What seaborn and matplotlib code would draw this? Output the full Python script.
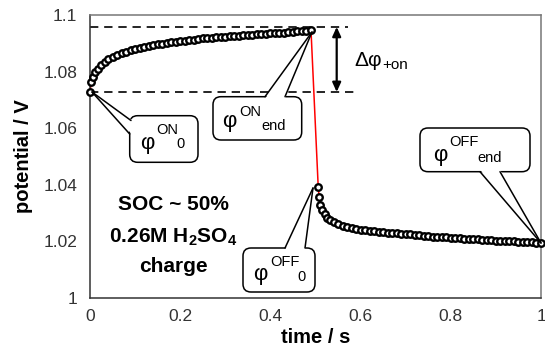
import numpy as np
import pandas as pd
import matplotlib
matplotlib.use("Agg")
import matplotlib.pyplot as plt
import seaborn as sns
from matplotlib.patches import FancyBboxPatch, Polygon
from matplotlib.lines import Line2D
from matplotlib.transforms import Affine2D

# ---------------- data ----------------
on_t = [0.0, 0.003, 0.007, 0.012, 0.018, 0.025, 0.033, 0.041, 0.05, 0.06,
        0.07, 0.08, 0.09, 0.10, 0.11, 0.12, 0.13, 0.14, 0.15, 0.16,
        0.17, 0.18, 0.19, 0.20, 0.21, 0.22, 0.23, 0.24, 0.25, 0.26,
        0.27, 0.28, 0.29, 0.30, 0.31, 0.32, 0.33, 0.34, 0.35, 0.36,
        0.37, 0.38, 0.39, 0.40, 0.41, 0.42, 0.43, 0.44, 0.45, 0.46,
        0.47, 0.48, 0.49]
on_v = [1.0728, 1.0765, 1.0782, 1.0797, 1.0810, 1.0822, 1.0834, 1.0843, 1.0851, 1.0858,
        1.0864, 1.0870, 1.0875, 1.0880, 1.0884, 1.0887, 1.0890, 1.0893, 1.0896, 1.0898,
        1.0900, 1.0903, 1.0905, 1.0907, 1.0909, 1.0911, 1.0913, 1.0915, 1.0917, 1.0918,
        1.0920, 1.0921, 1.0922, 1.0924, 1.0925, 1.0926, 1.0927, 1.0929, 1.0930, 1.0931,
        1.0932, 1.0933, 1.0934, 1.0935, 1.0936, 1.0937, 1.0938, 1.0939, 1.0940, 1.0942,
        1.0943, 1.0945, 1.0947]

off_t = [0.506, 0.508, 0.511, 0.515, 0.520, 0.526, 0.533, 0.541, 0.55, 0.56,
         0.57, 0.58, 0.59, 0.60, 0.61, 0.62, 0.63, 0.64, 0.65, 0.66,
         0.67, 0.68, 0.69, 0.70, 0.71, 0.72, 0.73, 0.74, 0.75, 0.76,
         0.77, 0.78, 0.79, 0.80, 0.81, 0.82, 0.83, 0.84, 0.85, 0.86,
         0.87, 0.88, 0.89, 0.90, 0.91, 0.92, 0.93, 0.94, 0.95, 0.96,
         0.97, 0.98, 0.99, 1.00]
off_v = [1.0393, 1.0358, 1.0330, 1.0310, 1.0296, 1.0284, 1.0275, 1.0267, 1.0261, 1.0256,
         1.0251, 1.0247, 1.0244, 1.0241, 1.0239, 1.0237, 1.0235, 1.0233, 1.0232, 1.0231,
         1.0229, 1.0228, 1.0227, 1.0226, 1.0225, 1.0223, 1.0222, 1.0220, 1.0219, 1.0217,
         1.0216, 1.0215, 1.0214, 1.0213, 1.0212, 1.0211, 1.0210, 1.0209, 1.0208, 1.0207,
         1.0206, 1.0205, 1.0204, 1.0203, 1.0202, 1.0201, 1.0201, 1.0200, 1.0199, 1.0198,
         1.0197, 1.0197, 1.0196, 1.0195]

dash_top = 1.0958
dash_bottom = 1.0728

x_ticks = [0, 0.2, 0.4, 0.6, 0.8, 1.0]
x_ticklabels = ["0", "0.2", "0.4", "0.6", "0.8", "1"]
y_ticks = [1.0, 1.02, 1.04, 1.06, 1.08, 1.1]
y_ticklabels = ["1", "1.02", "1.04", "1.06", "1.08", "1.1"]

# ---------------- style ----------------
sns.set_style("white")
plt.rcParams['font.family'] = ['Liberation Sans', 'DejaVu Sans']
plt.rcParams['mathtext.fontset'] = 'custom'
plt.rcParams['mathtext.rm'] = 'Liberation Sans'
plt.rcParams['mathtext.bf'] = 'Liberation Sans:bold'
plt.rcParams['text.color'] = 'black'
plt.rcParams['axes.labelcolor'] = 'black'

W, H = 545, 357
fig = plt.figure(figsize=(W / 100, H / 100), dpi=100)
ax = fig.add_axes([90 / W, 1 - 298 / H, (541 - 90) / W, (298 - 15) / H])

df_all = pd.DataFrame({"t": on_t + off_t, "v": on_v + off_v})
df_on = pd.DataFrame({"t": on_t, "v": on_v})
df_off = pd.DataFrame({"t": off_t, "v": off_v})

sns.lineplot(data=df_all, x="t", y="v", ax=ax, color="#ff0000", linewidth=1.1,
             sort=False, estimator=None, zorder=2)
for d in (df_on, df_off):
    sns.scatterplot(data=d, x="t", y="v", ax=ax, marker="o", s=22,
                    facecolor="white", edgecolor="black", linewidth=1.7,
                    zorder=3, clip_on=False)

ax.set_xlim(0, 1)
ax.set_ylim(1.0, 1.1)
ax.set_xticks(x_ticks)
ax.set_xticklabels(x_ticklabels)
ax.set_yticks(y_ticks)
ax.set_yticklabels(y_ticklabels)
ax.tick_params(axis="both", direction="out", length=4, width=1, color="#333333",
               labelsize=12.5, labelcolor="#333333", pad=5)
ax.tick_params(axis="x", pad=4)
for side in ("left", "bottom"):
    ax.spines[side].set_color("#333333")
    ax.spines[side].set_linewidth(1.1)
for side in ("top", "right"):
    ax.spines[side].set_color("#777777")
    ax.spines[side].set_linewidth(1.1)

ax.set_xlabel("time / s", fontsize=14.5, fontweight="bold", labelpad=3)
ax.set_ylabel("potential / V", fontsize=14.5, fontweight="bold", labelpad=8)

# dashed reference lines and double arrow
ax.plot([0, 0.572], [dash_top, dash_top], color="black", linestyle=(0, (5, 3.5)),
        linewidth=1.2, zorder=1)
ax.plot([0, 0.588], [dash_bottom, dash_bottom], color="black", linestyle=(0, (5, 3.5)),
        linewidth=1.2, zorder=1)
ax.annotate("", xy=(0.547, dash_top), xytext=(0.547, dash_bottom),
            arrowprops=dict(arrowstyle="<|-|>,head_length=0.55,head_width=0.25",
                            color="black", lw=1.6, shrinkA=0, shrinkB=0))

# ---------------- pixel-space annotations ----------------
T = Affine2D().scale(1, -1).translate(0, H)


def ptext(x, y, s, size, **kw):
    fig.text(x, y, s, transform=T, fontsize=size, ha="center", va="center",
             color="black", **kw)


def callout(box, b1, b2, tip, inward):
    x0, y0, x1, y1 = box
    p = FancyBboxPatch((x0, y0), x1 - x0, y1 - y0,
                       boxstyle="round,pad=0,rounding_size=8",
                       facecolor="white", edgecolor="black", linewidth=1.1,
                       transform=T, zorder=5)
    fig.add_artist(p)
    dx, dy = inward
    wedge = Polygon([(b1[0] + dx, b1[1] + dy), tip, (b2[0] + dx, b2[1] + dy)],
                    closed=True, facecolor="white", edgecolor="none",
                    transform=T, zorder=6)
    fig.add_artist(wedge)
    for b in (b1, b2):
        fig.add_artist(Line2D([b[0], tip[0]], [b[1], tip[1]], color="black",
                              linewidth=1.1, transform=T, zorder=7))


callout((129.7, 115.7, 198, 162.3), (131, 120.5), (129.7, 134), (92, 92), (2, 0))
ptext(147.3, 144, "φ", 16, zorder=8)
ptext(167, 130, "ON", 10.5, zorder=8)
ptext(180.3, 144.5, "0", 10.5, zorder=8)

callout((213, 96.7, 301.7, 140), (265, 96.7), (285, 96.7), (312, 32), (0, 2))
ptext(229, 122, "φ", 16, zorder=8)
ptext(250.5, 112.3, "ON", 10.5, zorder=8)
ptext(273.3, 125.5, "end", 10.5, zorder=8)

callout((243, 248, 315, 292), (285, 248), (305, 248), (313, 188), (0, 2))
ptext(260, 274.5, "φ", 16, zorder=8)
ptext(285, 262, "OFF", 10.5, zorder=8)
ptext(301.7, 277, "0", 10.5, zorder=8)

callout((420, 128, 530, 171.7), (480, 171.7), (500, 171.7), (541, 243), (0, -2))
ptext(440, 156, "φ", 16, zorder=8)
ptext(464.3, 141.5, "OFF", 10.5, zorder=8)
ptext(490, 158.5, "end", 10.5, zorder=8)

# delta phi label
ptext(368, 61, "Δφ", 15)
ptext(395, 65, "+on", 11)

# condition text
ptext(173, 205, "SOC ~ 50%", 15, fontweight="bold")
ptext(173, 237, r"0.26M H$_{\mathbf{2}}$SO$_{\mathbf{4}}$", 15, fontweight="bold")
ptext(173, 267, "charge", 15, fontweight="bold")

fig.savefig("out.png", dpi=100)
